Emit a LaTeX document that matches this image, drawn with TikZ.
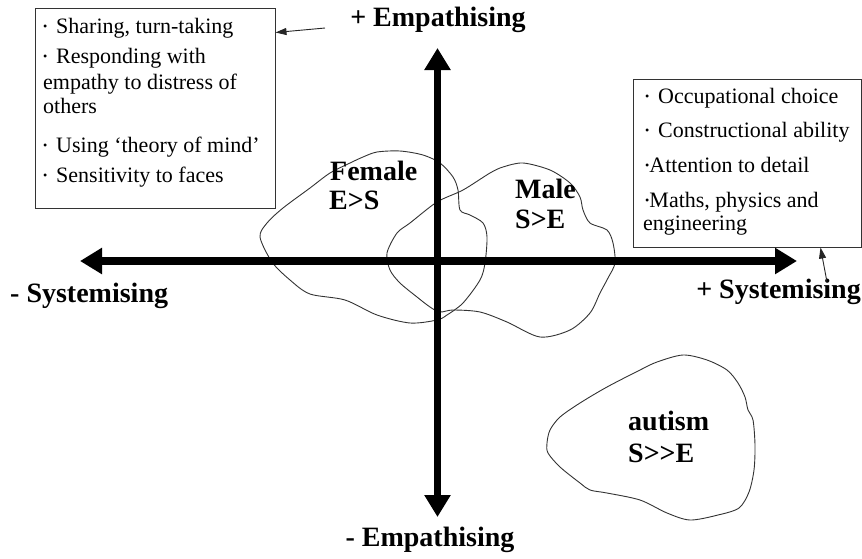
\documentclass[tikz,border=0pt]{standalone}
\usepackage{fontspec}
\setmainfont{Liberation Serif}
\usetikzlibrary{arrows.meta}
\newcommand\bu{\raisebox{.12em}{\scalebox{.55}{•}}}
\newcommand\bus{\bu\hspace{.4em}}
\tikzset{
  boxtxt/.style={anchor=base west, inner sep=0pt, font=\fontsize{22}{26}\selectfont},
  lab/.style={inner sep=0pt, font=\fontsize{28}{32}\selectfont\bfseries},
  frame/.style={draw=black!80, line width=1pt, inner sep=0pt},
  axisline/.style={line width=7.5pt, {Triangle[length=22pt,width=25pt]}-{Triangle[length=22pt,width=25pt]}},
  blob/.style={draw=black!80, line width=0.9pt},
  pointer/.style={draw=black!85, line width=0.9pt, -{Triangle[length=11pt,width=7pt]}}
}
\begin{document}
\begin{tikzpicture}[x=1pt,y=-1pt]
\useasboundingbox (0,0) rectangle (862,558);
% boxes
\node[frame, minimum width=240pt, minimum height=200pt] (lbox) at (155,108) {};
\node[frame, minimum width=228pt, minimum height=168pt] (rbox) at (747,163) {};
% left box text
\node[boxtxt] (l1) at (43,33) {\bus Sharing, turn-taking};
\node[boxtxt] (l2) at (43,63) {\bus Responding with};
\node[boxtxt] (l3) at (43,89) {empathy to distress of};
\node[boxtxt] (l4) at (43,113) {others};
\node[boxtxt] (l5) at (43,152) {\bus Using ‘theory of mind’};
\node[boxtxt] (l6) at (43,182) {\bus Sensitivity to faces};
% right box text
\node[boxtxt] (r1) at (645,103) {\bus Occupational choice};
\node[boxtxt] (r2) at (645,137) {\bus Constructional ability};
\node[boxtxt] (r3) at (645,172) {\bu Attention to detail};
\node[boxtxt] (r4) at (645,207) {\bu Maths, physics and};
\node[boxtxt] (r5) at (643,230) {engineering};
% blobs
\draw[blob] plot[smooth cycle, tension=0.5] coordinates {
 (260,237) (267,223) (283,208) (310,188) (330,173) (350,163) (363,157) (377,152)
 (400,151) (423,155) (440,163) (453,177) (458,190) (460,210) (470,215) (483,223)
 (487,237) (485,263) (480,280) (463,303) (447,315) (437,320) (410,323) (377,315)
 (345,300) (310,294) (290,280) (272,262)};
\draw[blob] plot[smooth cycle, tension=0.5] coordinates {
 (387,253) (397,233) (410,223) (437,202) (463,190) (490,173) (503,167) (523,163)
 (550,170) (570,183) (580,197) (583,210) (590,223) (607,230) (613,243) (615,263)
 (608,278) (600,293) (590,313) (570,330) (540,337) (507,322) (480,312) (453,310)
 (440,312) (430,307) (417,297) (400,283) (390,270)};
\draw[blob] plot[smooth cycle, tension=0.5] coordinates {
 (547,443) (550,430) (560,417) (580,403) (607,387) (640,370) (657,362) (683,355)
 (707,360) (727,370) (738,383) (745,397) (748,410) (753,420) (755,445) (754,470)
 (749,492) (739,508) (718,515) (690,520) (667,513) (640,500) (607,493) (590,490)
 (580,483) (560,467) (548,453)};
% axes
\coordinate (top) at (437.5,48);
\coordinate (bot) at (437.5,517);
\coordinate (lft) at (80,261);
\coordinate (rgt) at (797,261);
\draw[axisline] (lft) -- (rgt);
\draw[axisline] (bot) -- (top);
% axis labels
\node[lab, anchor=base] (pe) at (438,26) {+ Empathising};
\node[lab, anchor=base] (me) at (430,546) {- Empathising};
\node[lab, anchor=base west] (ms) at (10,302) {- Systemising};
\node[lab, anchor=base east] (ps) at (861,298) {+ Systemising};
% blob labels
\node[lab, anchor=base west] (f1) at (330,180) {Female};
\node[lab, anchor=base west] (f2) at (329,209) {E>S};
\node[lab, anchor=base west] (m1) at (515,198) {Male};
\node[lab, anchor=base west] (m2) at (515,228) {S>E};
\node[lab, anchor=base west] (a1) at (628,430) {autism};
\node[lab, anchor=base west] (a2) at (628,462) {S>{}>E};
% pointers
\coordinate (p1) at (325,28);
\coordinate (p2) at (827,282);
\draw[pointer] (p1) -- ([yshift=-25pt]lbox.north east);
\draw[pointer] (p2) -- ([xshift=188pt]rbox.south west);
\end{tikzpicture}
\end{document}
